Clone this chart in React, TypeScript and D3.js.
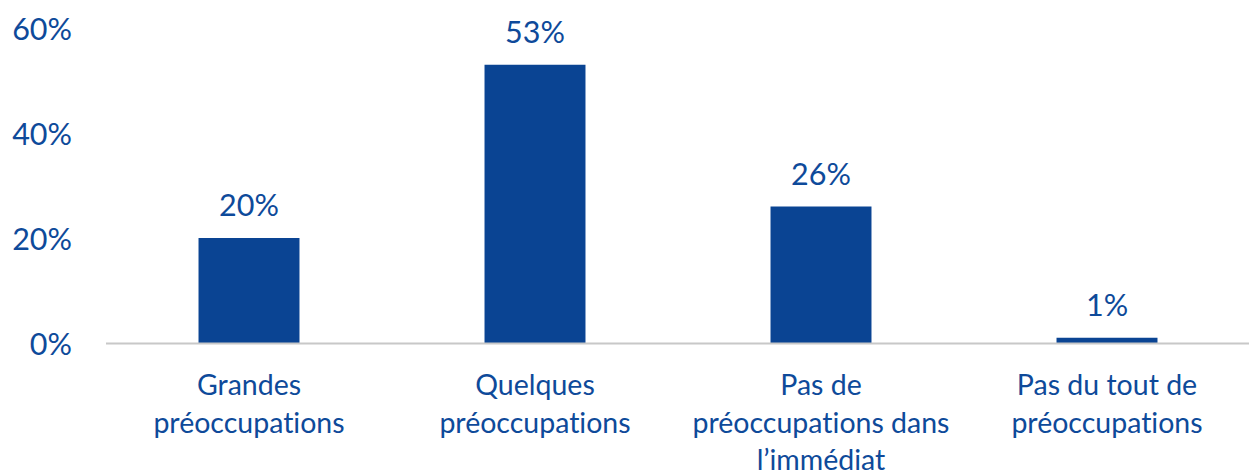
import React from "react";
import * as d3 from "d3";

const categories: string[][] = [
  ["Grandes", "préoccupations"],
  ["Quelques", "préoccupations"],
  ["Pas de", "préoccupations dans", "l’immédiat"],
  ["Pas du tout de", "préoccupations"],
];
const values: number[] = [20, 53, 26, 1];
const yTicks: number[] = [0, 20, 40, 60];

const W = 1249;
const H = 475;
const TEXT = "#0E4A9A";
const BAR = "#0A4493";
const FONT = "Lato, 'Open Sans', sans-serif";

export default function App() {
  const x = d3
    .scaleBand<number>()
    .domain(d3.range(values.length))
    .range([106, 1250])
    .paddingInner(0.647)
    .paddingOuter(0.3235);
  const y = d3.scaleLinear().domain([0, 60]).range([343, 28]);

  return (
    <svg
      width={W}
      height={H}
      style={{ position: "absolute", left: 0, top: 0, fontVariantLigatures: "none" }}
      fontFamily={FONT}
    >
      <rect width={W} height={H} fill="#fff" />
      {yTicks.map((t) => (
        <text key={t} x={72} y={y(t)} textAnchor="end" dominantBaseline="central" fontSize={30.5} fill={TEXT}>
          {t}%
        </text>
      ))}
      {values.map((v, i) => (
        <g key={i}>
          <rect x={x(i)} y={y(v)} width={x.bandwidth()} height={y(0) - y(v)} fill={BAR} />
          <text x={(x(i) as number) + x.bandwidth() / 2} y={y(v) - 22} textAnchor="middle" fontSize={30.5} fill={TEXT}>
            {v}%
          </text>
          {categories[i].map((line, j) => (
            <text key={j} x={(x(i) as number) + x.bandwidth() / 2} y={395 + j * 37.5} textAnchor="middle" fontSize={28.5} fill={TEXT}>
              {line}
            </text>
          ))}
        </g>
      ))}
      <line x1={106} x2={1249} y1={y(0) + 0.5} y2={y(0) + 0.5} stroke="#C8C8C8" strokeWidth={2} />
    </svg>
  );
}
